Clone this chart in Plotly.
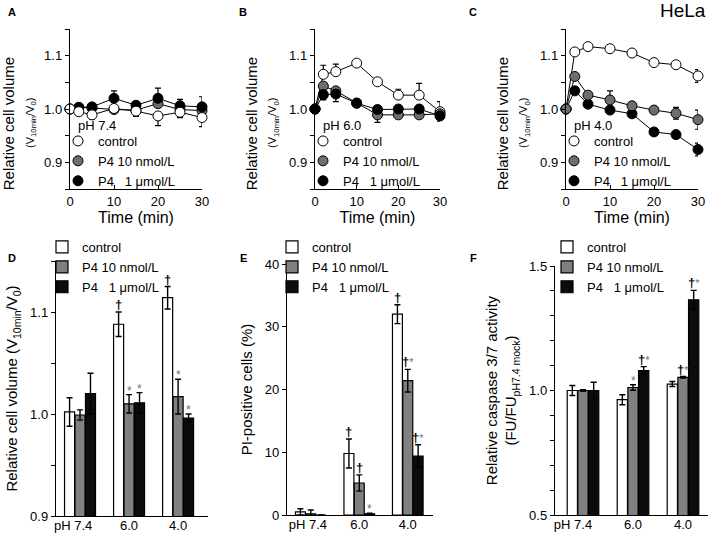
import plotly.graph_objects as go

W, H = 709, 534
FONT = "Liberation Sans, Arial, Helvetica, sans-serif"
NB = "\u00a0"

# ---------------- data ----------------
time_min = [0, 2, 5, 10, 15, 20, 25, 30]
series_names = ["control", "P4 10 nmol/L", "P4" + NB * 3 + "1 \u03bcmol/L"]
ph_titles = ["pH 7.4", "pH 6.0", "pH 4.0"]

# panel A (pH 7.4) relative cell volume
a_control = [1.000, 0.995, 0.989, 1.001, 0.996, 0.987, 0.994, 0.984]
a_control_err_up = [0, 0, 0, 0, 0, 0, 0, 0]
a_control_err_dn = [0, 0.006, 0.008, 0.006, 0.010, 0.018, 0.010, 0.017]
a_p4_10n = [1.000, 1.003, 1.002, 0.999, 0.998, 1.010, 0.999, 0.997]
a_p4_10n_err_up = [0, 0.004, 0.004, 0.004, 0.004, 0.006, 0.004, 0.004]
a_p4_10n_err_dn = [0, 0.004, 0.004, 0.004, 0.004, 0.006, 0.004, 0.004]
a_p4_1u = [1.000, 1.003, 1.004, 1.020, 1.007, 1.020, 1.006, 1.004]
a_p4_1u_err_up = [0, 0.005, 0.005, 0.014, 0.007, 0.019, 0.012, 0.019]
a_p4_1u_err_dn = [0, 0, 0, 0, 0, 0, 0, 0]

# panel B (pH 6.0)
b_control = [1.000, 1.065, 1.070, 1.086, 1.051, 1.026, 1.026, 0.995]
b_control_err_up = [0, 0.017, 0.014, 0.004, 0.004, 0.011, 0.022, 0.019]
b_control_err_dn = [0, 0, 0, 0, 0, 0, 0, 0]
b_p4_10n = [1.000, 1.043, 1.034, 1.011, 0.989, 0.989, 0.989, 0.991]
b_p4_10n_err_up = [0, 0, 0, 0, 0, 0, 0, 0]
b_p4_10n_err_dn = [0, 0.010, 0.010, 0.005, 0.014, 0.005, 0.005, 0.008]
b_p4_1u = [1.000, 1.027, 1.028, 1.011, 0.999, 1.000, 1.000, 0.987]
b_p4_1u_err_up = [0, 0, 0, 0, 0, 0, 0, 0]
b_p4_1u_err_dn = [0, 0.010, 0.014, 0.005, 0.005, 0.005, 0.005, 0.010]

# panel C (pH 4.0)
c_control = [1.000, 1.107, 1.117, 1.113, 1.105, 1.087, 1.083, 1.062]
c_control_err = [0, 0.004, 0.004, 0.004, 0.004, 0.005, 0.005, 0.012]
c_p4_10n = [1.000, 1.061, 1.026, 1.017, 1.006, 0.998, 0.992, 0.980]
c_p4_10n_err = [0, 0.005, 0.005, 0.017, 0.005, 0.005, 0.011, 0.018]
c_p4_1u = [1.000, 1.034, 1.009, 0.998, 0.991, 0.957, 0.952, 0.924]
c_p4_1u_err = [0, 0.005, 0.005, 0.005, 0.005, 0.005, 0.005, 0.012]

# bar panels
ph_labels = ["pH 7.4", "6.0", "4.0"]
group_pos = [0, 1, 2]

d_control = [1.002, 1.088, 1.114]
d_control_err = [0.014, 0.012, 0.011]
d_p4_10n = [0.999, 1.010, 1.017]
d_p4_10n_err = [0.005, 0.009, 0.017]
d_p4_1u = [1.020, 1.011, 0.996]
d_p4_1u_err = [0.020, 0.010, 0.004]
d_sig = [["", "\u2020", "\u2020"], ["", "*", "*"], ["", "*", "*"]]

e_control = [0.5, 9.8, 32.0]
e_control_err = [0.5, 2.3, 1.5]
e_p4_10n = [0.2, 5.1, 21.4]
e_p4_10n_err = [0.6, 1.3, 1.8]
e_p4_1u = [0.0, 0.2, 9.4]
e_p4_1u_err = [0.0, 0.1, 1.8]
e_sig = [["", "\u2020", "\u2020"], ["", "\u2020", "\u2020*"], ["", "*", "\u2020*"]]

f_control = [1.000, 0.963, 1.026]
f_control_err = [0.020, 0.020, 0.010]
f_p4_10n = [1.000, 1.012, 1.053]
f_p4_10n_err = [0.003, 0.011, 0.003]
f_p4_1u = [1.000, 1.080, 1.364]
f_p4_1u_err = [0.033, 0.016, 0.038]
f_sig = [["", "", ""], ["", "*", "\u2020*"], ["", "\u2020*", "\u2020*"]]

# ---------------- style ----------------
circle_fill = ["white", "#6e6e6e", "black"]
bar_fill = ["white", "#808080", "#0c0c0c"]
BARGAP = 0.36


def px_x(x):
    return x / W


def px_y(y):
    return 1 - y / H


fig = go.Figure()

# ---------- line panels A, B, C ----------
line_panels = [
    dict(ax="", leg="legend", ph=ph_titles[0], order=[1, 2, 0],
         vals=[a_control, a_p4_10n, a_p4_1u],
         up=[a_control_err_up, a_p4_10n_err_up, a_p4_1u_err_up],
         dn=[a_control_err_dn, a_p4_10n_err_dn, a_p4_1u_err_dn]),
    dict(ax="2", leg="legend2", ph=ph_titles[1], order=[0, 1, 2],
         vals=[b_control, b_p4_10n, b_p4_1u],
         up=[b_control_err_up, b_p4_10n_err_up, b_p4_1u_err_up],
         dn=[b_control_err_dn, b_p4_10n_err_dn, b_p4_1u_err_dn]),
    dict(ax="3", leg="legend3", ph=ph_titles[2], order=[0, 2, 1],
         vals=[c_control, c_p4_10n, c_p4_1u],
         up=[c_control_err, c_p4_10n_err, c_p4_1u_err],
         dn=[c_control_err, c_p4_10n_err, c_p4_1u_err]),
]

for p in line_panels:
    for i in p["order"]:
        fig.add_trace(go.Scatter(
            x=time_min, y=p["vals"][i], mode="lines+markers",
            line=dict(color="black", width=1),
            marker=dict(size=10, color=circle_fill[i], line=dict(color="black", width=1)),
            error_y=dict(type="data", symmetric=False, array=p["up"][i], arrayminus=p["dn"][i],
                         color="black", thickness=1.2, width=3),
            cliponaxis=False, showlegend=False,
            xaxis="x" + p["ax"], yaxis="y" + p["ax"]))
    for i in range(3):
        fig.add_trace(go.Scatter(
            x=[None], y=[None], mode="markers", name=series_names[i],
            marker=dict(size=10, color=circle_fill[i], line=dict(color="black", width=1)),
            showlegend=True, legend=p["leg"],
            xaxis="x" + p["ax"], yaxis="y" + p["ax"]))

# ---------- bar panels D, E, F ----------
bar_panels = [
    dict(ax="4", leg="legend4", vals=[d_control, d_p4_10n, d_p4_1u],
         err=[d_control_err, d_p4_10n_err, d_p4_1u_err], sig=d_sig),
    dict(ax="5", leg="legend5", vals=[e_control, e_p4_10n, e_p4_1u],
         err=[e_control_err, e_p4_10n_err, e_p4_1u_err], sig=e_sig),
    dict(ax="6", leg="legend6", vals=[f_control, f_p4_10n, f_p4_1u],
         err=[f_control_err, f_p4_10n_err, f_p4_1u_err], sig=f_sig),
]

annotations = []
slot = (1 - BARGAP) / 3
for p in bar_panels:
    for i in range(3):
        fig.add_trace(go.Bar(
            x=group_pos, y=p["vals"][i], name=series_names[i],
            marker=dict(color=bar_fill[i], line=dict(color="black", width=1.2)),
            error_y=dict(type="data", array=p["err"][i], color="black", thickness=1.4, width=3),
            legend=p["leg"], showlegend=True,
            xaxis="x" + p["ax"], yaxis="y" + p["ax"]))
        for g in group_pos:
            s = p["sig"][i][g]
            if not s:
                continue
            if s == "*":
                txt = "<span style='color:#707070'>*</span>"
                ys, fs = -5, 12
            elif s == "\u2020*":
                txt = "<b>\u2020</b><span style='color:#707070;font-size:11px'>*</span>"
                ys, fs = -2, 13
            else:
                txt = "<b>\u2020</b>"
                ys, fs = -2, 13
            annotations.append(dict(
                x=g + (i - 1) * slot, y=p["vals"][i][g] + p["err"][i][g],
                xref="x" + p["ax"], yref="y" + p["ax"], text=txt, showarrow=False,
                xanchor="center", yanchor="bottom", yshift=ys,
                font=dict(size=fs, color="black", family=FONT)))

# ---------- axes ----------
tickfont = dict(size=13, color="black", family=FONT)
common = dict(showline=True, linecolor="black", linewidth=1.4, showgrid=False,
              zeroline=False, tickcolor="black", tickwidth=1.2, tickfont=tickfont,
              automargin=False)

vol_title = ("Relative cell volume" + NB * 7 + "<br><span style='font-size:11px'>"
             "(V<sub>10min</sub>/V<sub>0</sub>)" + NB * 9 + "</span>")

top_x_px = [(70, 202), (315, 440), (566, 698)]
top_y_px = (29, 189)
for k, (x0, x1) in enumerate(top_x_px):
    suf = "" if k == 0 else str(k + 1)
    fig.update_layout(**{
        "xaxis" + suf: dict(common, domain=[px_x(x0), px_x(x1)], range=[0, 30],
                            dtick=10, ticks="inside", ticklen=4,
                            anchor="y" + suf,
                            title=dict(text=NB * 4 + "Time (min)", standoff=0,
                                       font=dict(size=16, color="black", family=FONT))),
        "yaxis" + suf: dict(common, domain=[px_y(top_y_px[1]), px_y(top_y_px[0])],
                            range=[0.85, 1.15], dtick=0.1, tick0=0, tickformat=".1f",
                            ticks="outside", ticklen=4, anchor="x" + suf,
                            minor=dict(dtick=0.05, ticks="outside", ticklen=4,
                                       tickcolor="black", tickwidth=1.2, showgrid=False),
                            title=dict(text=vol_title, standoff=8,
                                       font=dict(size=15, color="black", family=FONT))),
    })

bottom_specs = [
    dict(suf="4", x=(56, 208), y=(261, 516), xr=[-0.49, 2.61], yr=[0.9, 1.15],
         dtick=0.1, minor=0.05, fmt=".1f", lab_shift=-0.14,
         title="Relative cell volume (V<sub>10min</sub>/V<sub>0</sub>)"),
    dict(suf="5", x=(287, 433), y=(264, 515), xr=[-0.49, 2.52], yr=[0, 40],
         dtick=10, minor=None, fmt="d", lab_shift=-0.06,
         title="PI-positive cells (%)"),
    dict(suf="6", x=(555, 708), y=(266, 515), xr=[-0.56, 2.5], yr=[0.5, 1.5],
         dtick=0.5, minor=0.1, fmt=".1f", lab_shift=-0.2,
         title="Relative caspase 3/7 activity<br>(FU/FU<sub>pH7.4 mock</sub>)"),
]
for b in bottom_specs:
    ydict = dict(common, domain=[px_y(b["y"][1]), px_y(b["y"][0])], range=b["yr"],
                 dtick=b["dtick"], tick0=0, tickformat=b["fmt"], ticks="outside",
                 ticklen=4, anchor="x" + b["suf"],
                 title=dict(text=b["title"], standoff=8,
                            font=dict(size=15, color="black", family=FONT)))
    if b["minor"]:
        ydict["minor"] = dict(dtick=b["minor"], ticks="outside", ticklen=4,
                              tickcolor="black", tickwidth=1.2, showgrid=False)
    fig.update_layout(**{
        "xaxis" + b["suf"]: dict(common, domain=[px_x(b["x"][0]), px_x(b["x"][1])],
                                 range=b["xr"], ticks="", anchor="y" + b["suf"],
                                 tickmode="array", ticklabelstandoff=-3,
                                 tickvals=[group_pos[0] + b["lab_shift"]] + group_pos[1:],
                                 ticktext=ph_labels),
        "yaxis" + b["suf"]: ydict,
    })

# ---------- legends ----------
leg_common = dict(bgcolor="rgba(0,0,0,0)", borderwidth=0, xanchor="left", yanchor="top",
                  tracegroupgap=0, itemclick=False, itemdoubleclick=False,
                  font=dict(size=13, color="black", family=FONT))
top_leg_x = [58, 303, 554]
for k, lx in enumerate(top_leg_x):
    name = "legend" if k == 0 else "legend" + str(k + 1)
    fig.update_layout(**{name: dict(leg_common, x=px_x(lx), y=px_y(126))})
bot_leg_x = [42, 272, 547]
for k, lx in enumerate(bot_leg_x):
    fig.update_layout(**{"legend" + str(k + 4): dict(leg_common, x=px_x(lx), y=px_y(232),
                                                    font=dict(size=13, color="black", family=FONT))})

# pH labels inside top panels
for k, (x0, x1) in enumerate(top_x_px):
    annotations.append(dict(x=px_x(x0 + 6), y=px_y(125), xref="paper", yref="paper",
                            text=ph_titles[k], showarrow=False, xanchor="left",
                            yanchor="middle", font=dict(size=13, color="black", family=FONT)))

# panel letters and cell line label
letters = [("A", 12, 12), ("B", 243, 12), ("C", 473, 12),
           ("D", 12, 258), ("E", 243, 258), ("F", 473, 258)]
for t, lx, ly in letters:
    annotations.append(dict(x=px_x(lx), y=px_y(ly), xref="paper", yref="paper", text="<b>" + t + "</b>",
                            showarrow=False, xanchor="center", yanchor="middle",
                            font=dict(size=11, color="black", family=FONT)))
annotations.append(dict(x=px_x(683), y=px_y(10), xref="paper", yref="paper", text="HeLa",
                        showarrow=False, xanchor="center", yanchor="middle",
                        font=dict(size=19, color="black", family=FONT)))

fig.update_layout(
    width=W, height=H, autosize=False,
    margin=dict(l=0, r=0, t=0, b=0),
    paper_bgcolor="white", plot_bgcolor="white",
    barmode="group", bargap=BARGAP, bargroupgap=0.04,
    showlegend=True, annotations=annotations,
    font=dict(family=FONT, color="black"),
)

fig.write_html("out.html", config={"displayModeBar": False},
               post_script="document.body.style.margin='0px';document.body.style.overflow='hidden';")
